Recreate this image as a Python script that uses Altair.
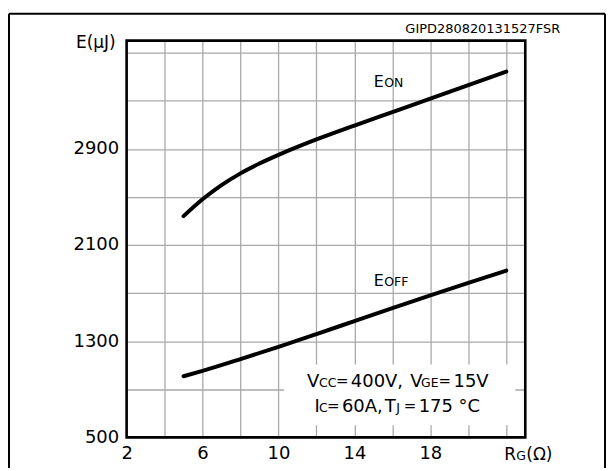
import altair as alt
import pandas as pd

# ---- data ----
rg_on = [5, 6, 7, 8, 9, 10, 11, 12, 13, 14, 16, 18, 20, 22]
e_on = [2340, 2480, 2598, 2696, 2778, 2850, 2916, 2978, 3037, 3094, 3206, 3318, 3430, 3542]
rg_off = [5, 6, 8, 10, 12, 14, 16, 18, 20, 22]
e_off = [1008, 1053, 1151, 1253, 1359, 1467, 1575, 1681, 1785, 1887]
x_grid = [2, 4, 6, 8, 10, 12, 14, 16, 18, 20, 22]
y_grid = [500, 900, 1300, 1700, 2100, 2500, 2900, 3300, 3700]
x_labels = [2, 6, 10, 14, 18]
y_labels = [500, 1300, 2100, 2900]

FONT = "DejaVu Sans"
W, H = 400, 398
PL, PT = 127, 40  # plot-area origin on the page

df = pd.DataFrame({
    "rg": rg_on + rg_off,
    "e": e_on + e_off,
    "curve": ["EON"] * len(rg_on) + ["EOFF"] * len(rg_off),
})

x_scale = alt.Scale(domain=[2, 23], nice=False, zero=False)
y_scale = alt.Scale(domain=[500, 3800], nice=False, zero=False)

xl = ",".join(str(v) for v in x_labels)
yl = ",".join(str(v) for v in y_labels)

lines = alt.Chart(df).mark_line(
    color="black", strokeWidth=4, interpolate="monotone", strokeCap="round"
).encode(
    x=alt.X("rg:Q", scale=x_scale, axis=alt.Axis(
        values=x_grid, title=None, grid=True, domain=False, ticks=False,
        labelExpr=f"indexof([{xl}], datum.value) >= 0 ? datum.label : ''",
        labelFlush=False, labelOverlap=False, labelBound=False,
        labelPadding=7, labelFontSize=18, labelFont=FONT, labelColor="black")),
    y=alt.Y("e:Q", scale=y_scale, axis=alt.Axis(
        values=y_grid, title=None, grid=True, domain=False, ticks=False, format="d",
        labelExpr=f"indexof([{yl}], datum.value) >= 0 ? datum.label : ''",
        labelFlush=False, labelOverlap=False, labelBound=False,
        labelPadding=8, labelFontSize=18, labelFont=FONT, labelColor="black")),
    detail="curve:N",
)

one = pd.DataFrame({"a": [0]})


def txt(s, px, py, size, align="left"):
    return alt.Chart(one).mark_text(
        text=s, font=FONT, fontSize=size, align=align, baseline="alphabetic", color="black"
    ).encode(x=alt.value(px - PL), y=alt.value(py - PT))


def rule(x1, y1, x2, y2, w=2, c="black"):
    return alt.Chart(one).mark_rule(color=c, strokeWidth=w).encode(
        x=alt.value(x1 - PL), x2=alt.value(x2 - PL), y=alt.value(y1 - PT), y2=alt.value(y2 - PT))


white_box = alt.Chart(one).mark_rect(fill="white").encode(
    x=alt.value(285 - PL), x2=alt.value(517 - PL), y=alt.value(365 - PT), y2=alt.value(426 - PT))

frame = alt.Chart(one).mark_rect(fillOpacity=0, stroke="black", strokeWidth=2.6).encode(
    x=alt.value(0), x2=alt.value(W), y=alt.value(0), y2=alt.value(H))

B, S, EQ = 18, 12.5, 15  # big / small-cap / equals-sign font sizes
texts = [
    # curve labels
    txt("E", 375, 86, 16), txt("ON", 385.5, 86, S),
    txt("E", 375, 286, 16), txt("OFF", 385.5, 286, S),
    # condition box, line 1
    txt("V", 308, 387, B), txt("CC", 320, 387, S), txt("=", 337, 386, EQ),
    txt("400V,", 352, 387, B), txt("V", 411.5, 387, B), txt("GE", 422.5, 387, S),
    txt("=", 440, 386, EQ), txt("15V", 455, 387, B),
    # condition box, line 2
    txt("I", 315.5, 413, B), txt("C", 320, 413, S), txt("=", 328, 412, EQ),
    txt("60A,", 343, 413, B), txt("T", 386, 413, B), txt("J", 397.5, 413, S),
    txt("=", 405, 412, EQ), txt("175 °C", 420, 413, B),
    # axis titles
    txt("E(μJ)", 116, 47, 17, align="right"),
    txt("R", 506, 461, 17), txt("G", 518, 461, S), txt("(Ω)", 528, 461, 17),
    # figure id
    txt("GIPD280820131527FSR", 562, 32, 13, align="right"),
]

outer = [
    rule(9, 13, 9, 470),
    rule(9, 13, 607, 13),
    rule(607, 13, 607, 470),
]

chart = alt.layer(lines, white_box, frame, *texts, *outer).properties(
    width=W, height=H,
    autosize=alt.AutoSizeParams(type="none"),
    padding={"left": PL - 8, "top": PT - 8, "right": 82, "bottom": 30},
).configure_view(strokeWidth=0).configure_axis(
    gridColor="#a9a9a9", gridWidth=1.3, gridOpacity=1
)

chart.save("out.html", embed_options={"renderer": "svg", "actions": False})
